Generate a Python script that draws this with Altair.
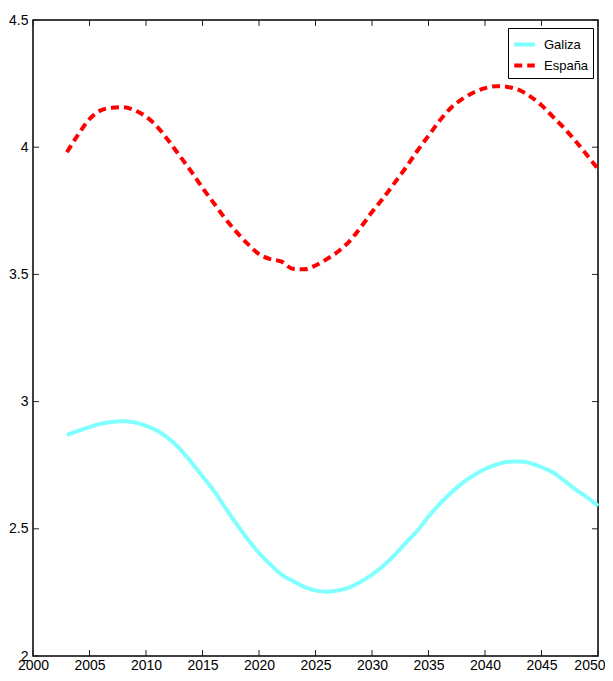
import altair as alt
import pandas as pd

FONT = "Liberation Sans, Arial, sans-serif"

years = list(range(2003, 2051))

galiza = [
    2.869, 2.885, 2.900, 2.913, 2.920, 2.923, 2.918, 2.905, 2.885, 2.855,
    2.814, 2.762, 2.706, 2.650, 2.584, 2.520, 2.460, 2.405, 2.360, 2.320,
    2.295, 2.272, 2.258, 2.253, 2.258, 2.270, 2.292, 2.320, 2.355, 2.397,
    2.445, 2.492, 2.548, 2.598, 2.642, 2.680, 2.710, 2.735, 2.752, 2.763,
    2.765, 2.758, 2.742, 2.722, 2.690, 2.655, 2.625, 2.590,
]

espana = [
    3.980, 4.050, 4.110, 4.145, 4.155, 4.157, 4.145, 4.120, 4.080, 4.025,
    3.965, 3.905, 3.840, 3.780, 3.720, 3.667, 3.620, 3.580, 3.560, 3.550,
    3.522, 3.520, 3.535, 3.560, 3.590, 3.630, 3.685, 3.745, 3.800, 3.860,
    3.920, 3.985, 4.045, 4.105, 4.155, 4.190, 4.215, 4.232, 4.240, 4.237,
    4.225, 4.200, 4.165, 4.120, 4.075, 4.025, 3.970, 3.915,
]

series = ["Galiza", "España"]
x_ticks = list(range(2000, 2051, 5))
y_ticks = [2, 2.5, 3, 3.5, 4, 4.5]

W, H = 565, 636
TICK = 6

df = pd.concat(
    [
        pd.DataFrame({"year": years, "value": galiza, "serie": "Galiza"}),
        pd.DataFrame({"year": years, "value": espana, "serie": "España"}),
    ]
)
xt = pd.DataFrame({"year": x_ticks})
yt = pd.DataFrame({"value": y_ticks})

x_scale = alt.Scale(domain=[2000, 2050], nice=False, zero=False)
y_scale = alt.Scale(domain=[2, 4.5], nice=False, zero=False)

legend = alt.Legend(
    title=None, orient="none", legendX=475, legendY=8,
    symbolType="stroke", symbolStrokeWidth=4, symbolSize=420,
)

# last year label would be clipped by the page edge, pull it inwards
last_label = "datum.value == 2050"

lines = (
    alt.Chart(df)
    .mark_line(strokeWidth=4, interpolate="monotone", strokeCap="butt")
    .encode(
        x=alt.X(
            "year:Q",
            scale=x_scale,
            title=None,
            axis=alt.Axis(
                values=x_ticks, format="d", ticks=False, domain=False, grid=False,
                labelFlush=False, labelOverlap=False, labelBound=False,
                labelPadding=2, labelBaseline="top",
                labelAlign={"condition": {"test": last_label, "value": "right"}, "value": "center"},
                labelOffset={"condition": {"test": last_label, "value": 7}, "value": 0},
            ),
        ),
        y=alt.Y(
            "value:Q",
            scale=y_scale,
            title=None,
            axis=alt.Axis(
                values=y_ticks, format="~g", ticks=False, domain=False, grid=False,
                labelFlush=False, labelOverlap=False, labelBound=False, labelPadding=5,
            ),
        ),
        color=alt.Color(
            "serie:N",
            sort=series,
            scale=alt.Scale(domain=series, range=["#7FFFFF", "#FF0000"]),
            legend=legend,
        ),
        strokeDash=alt.StrokeDash(
            "serie:N",
            sort=series,
            scale=alt.Scale(domain=series, range=[[1, 0], [8, 5]]),
            legend=legend,
        ),
    )
)

tick_color = "#222222"
bottom = alt.Chart(xt).mark_rule(color=tick_color).encode(
    x=alt.X("year:Q", scale=x_scale, title=None), y=alt.value(H), y2=alt.value(H - TICK)
)
top = alt.Chart(xt).mark_rule(color=tick_color).encode(
    x=alt.X("year:Q", scale=x_scale, title=None), y=alt.value(0), y2=alt.value(TICK)
)
left = alt.Chart(yt).mark_rule(color=tick_color).encode(
    y=alt.Y("value:Q", scale=y_scale, title=None), x=alt.value(0), x2=alt.value(TICK)
)
right = alt.Chart(yt).mark_rule(color=tick_color).encode(
    y=alt.Y("value:Q", scale=y_scale, title=None), x=alt.value(W), x2=alt.value(W - TICK)
)

chart = (
    alt.layer(lines, bottom, top, left, right)
    .properties(
        width=W,
        height=H,
        autosize=alt.AutoSizeParams(type="none"),
        padding={"left": 25, "top": 12, "right": 7, "bottom": 17},
    )
    .configure(font=FONT)
    .configure_view(stroke="black", strokeWidth=1.5)
    .configure_axis(labelFont=FONT, labelFontSize=14, labelColor="black")
    .configure_legend(
        labelFont=FONT, labelFontSize=13, labelColor="black",
        strokeColor="black", fillColor="white", padding=4, rowPadding=0,
        labelOffset=7, cornerRadius=0,
    )
)

chart.save("out.html", embed_options={"renderer": "svg", "actions": False})
